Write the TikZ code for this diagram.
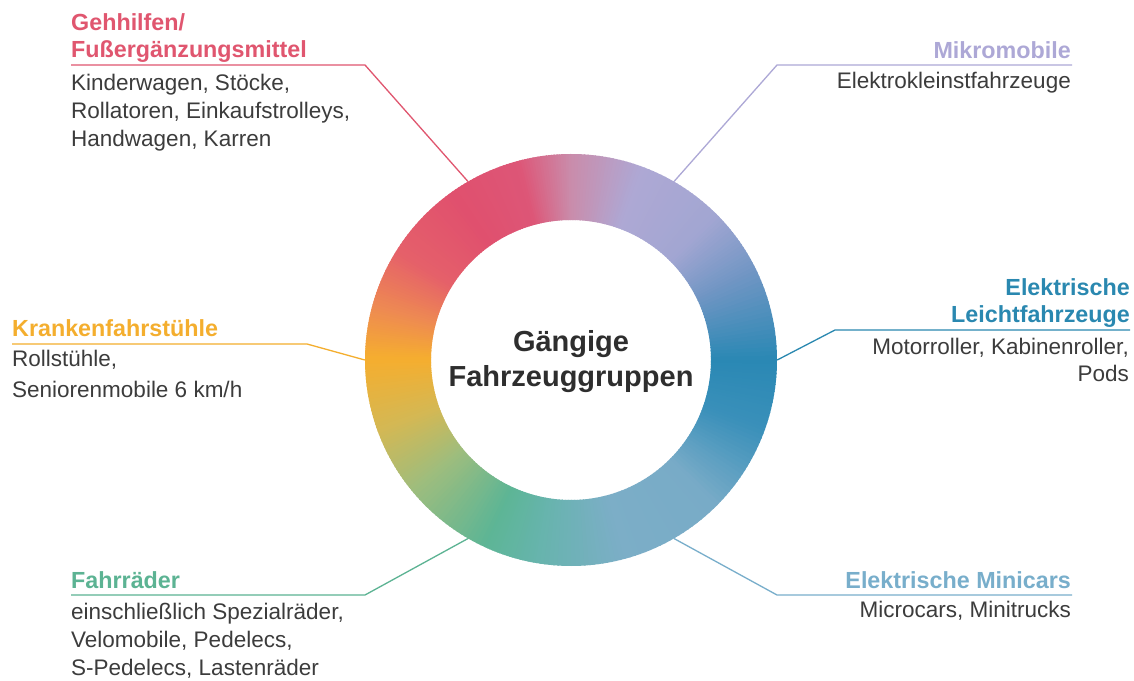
\documentclass[tikz,border=0pt]{standalone}
\usepackage{fontspec}
\setmainfont{Liberation Sans}
\definecolor{pinkc}{HTML}{E0566F}
\definecolor{lavc}{HTML}{ADA8D6}
\definecolor{bluec}{HTML}{2A88B0}
\definecolor{orangec}{HTML}{F4AE2E}
\definecolor{greenc}{HTML}{5CB393}
\definecolor{lbluec}{HTML}{78AECB}
\definecolor{bodygray}{HTML}{3C3C3C}
\definecolor{centergray}{HTML}{2E2E2E}
% ring gradient stops
\definecolor{gA}{HTML}{F5AE2F}% -180
\definecolor{gB}{HTML}{D4B854}% -160
\definecolor{gC}{HTML}{9DBD7E}% -140
\definecolor{gD}{HTML}{5DB595}% -115
\definecolor{gE}{HTML}{66B4AC}% -100
\definecolor{gF}{HTML}{7CAEC7}% -75
\definecolor{gG}{HTML}{78ABC7}% -45
\definecolor{gH}{HTML}{3A90BA}% -20
\definecolor{gI}{HTML}{2A88B4}% 0
\definecolor{gJ}{HTML}{6E95C3}% 25
\definecolor{gK}{HTML}{A2A6D2}% 45
\definecolor{gL}{HTML}{AEA8D4}% 70
\definecolor{gM}{HTML}{CA8CAB}% 90
\definecolor{gN}{HTML}{DD5677}% 105
\definecolor{gO}{HTML}{E0506E}% 125
\definecolor{gP}{HTML}{E5606A}% 148
\definecolor{gQ}{HTML}{EE8A52}% 165
\newcommand\ringpart[4]{%
  \pgfmathsetmacro\rpstep{(#2-#1)/20}%
  \foreach \k in {0,...,19}{%
    \pgfmathsetmacro\rpa{#1+\k*\rpstep}%
    \pgfmathsetmacro\rpb{\rpa+\rpstep+0.4}%
    \pgfmathsetmacro\rpmix{100-(\k+0.5)*5}%
    \fill[#3!\rpmix!#4] (\rpa:140pt) -- (\rpa:206pt)
      arc[start angle=\rpa, end angle=\rpb, radius=206pt]
      -- (\rpb:140pt)
      arc[start angle=\rpb, end angle=\rpa, radius=140pt] -- cycle;
  }%
}
\tikzset{
  ttl/.style={inner sep=0pt, font=\fontsize{23.3}{28}\selectfont\bfseries},
  bdy/.style={inner sep=0pt, text=bodygray, font=\fontsize{22.5}{28}\selectfont},
  ctr/.style={inner sep=0pt, text=centergray, font=\fontsize{29}{35}\selectfont\bfseries},
  conn/.style={line width=1.3pt},
}
\begin{document}
\begin{tikzpicture}[x=1pt,y=1pt]
\useasboundingbox[fill=white] (0,0) rectangle (1134,680);
% ring
\begin{scope}[shift={(571,320)}]
  \ringpart{-180}{-160}{gA}{gB}
  \ringpart{-160}{-140}{gB}{gC}
  \ringpart{-140}{-115}{gC}{gD}
  \ringpart{-115}{-100}{gD}{gE}
  \ringpart{-100}{-75}{gE}{gF}
  \ringpart{-75}{-45}{gF}{gG}
  \ringpart{-45}{-20}{gG}{gH}
  \ringpart{-20}{0}{gH}{gI}
  \ringpart{0}{25}{gI}{gJ}
  \ringpart{25}{45}{gJ}{gK}
  \ringpart{45}{70}{gK}{gL}
  \ringpart{70}{90}{gL}{gM}
  \ringpart{90}{105}{gM}{gN}
  \ringpart{105}{125}{gN}{gO}
  \ringpart{125}{148}{gO}{gP}
  \ringpart{148}{165}{gP}{gQ}
  \ringpart{165}{179.6}{gQ}{gA}
\end{scope}
\node[circle, minimum size=412pt, inner sep=0pt] (ring) at (571,320) {};
\node[ctr, anchor=base] (c1) at (571,328) {Gängige};
\node[ctr, anchor=base] (c2) at (571,293) {Fahrzeuggruppen};

% Gehhilfen
\coordinate (gk) at (365,615);
\coordinate (ge) at (71,615);
\draw[conn, pinkc] (ring.120) -- (gk) -- (ge);
\node[ttl, text=pinkc, anchor=base west] (g1) at (71,649) {Gehhilfen/};
\node[ttl, text=pinkc, anchor=base west] (g2) at (71,622) {Fußergänzungsmittel};
\node[bdy, anchor=base west] (gb1) at (71,589) {Kinderwagen, Stöcke,};
\node[bdy, anchor=base west] (gb2) at (71,561.5) {Rollatoren, Einkaufstrolleys,};
\node[bdy, anchor=base west] (gb3) at (71,533) {Handwagen, Karren};

% Mikromobile
\coordinate (mk) at (777,615);
\coordinate (me) at (1072,615);
\draw[conn, lavc] (ring.60) -- (mk) -- (me);
\node[ttl, text=lavc, anchor=base east] (m1) at (1071,621) {Mikromobile};
\node[bdy, anchor=base east] (mb1) at (1071,591) {Elektrokleinstfahrzeuge};

% Krankenfahrstuehle
\coordinate (kk) at (307,336);
\coordinate (ke) at (12,336);
\draw[conn, orangec] (ring.180) -- (kk) -- (ke);
\node[ttl, text=orangec, anchor=base west] (k1) at (12,343) {Krankenfahrstühle};
\node[bdy, anchor=base west] (kb1) at (12,313) {Rollstühle,};
\node[bdy, anchor=base west] (kb2) at (12,282) {Seniorenmobile 6 km/h};

% Elektrische Leichtfahrzeuge
\coordinate (lk) at (835,350);
\coordinate (le) at (1130,350);
\draw[conn, bluec] (ring.0) -- (lk) -- (le);
\node[ttl, text=bluec, anchor=base east] (l1) at (1130,384) {Elektrische};
\node[ttl, text=bluec, anchor=base east] (l2) at (1130,357) {Leichtfahrzeuge};
\node[bdy, anchor=base east] (lb1) at (1129,325) {Motorroller, Kabinenroller,};
\node[bdy, anchor=base east] (lb2) at (1129,298) {Pods};

% Fahrraeder
\coordinate (fk) at (365,85);
\coordinate (fe) at (71,85);
\draw[conn, greenc] (ring.-120) -- (fk) -- (fe);
\node[ttl, text=greenc, anchor=base west] (f1) at (71,92) {Fahrräder};
\node[bdy, anchor=base west] (fb1) at (71,61) {einschließlich Spezialräder,};
\node[bdy, anchor=base west] (fb2) at (71,32.5) {Velomobile, Pedelecs,};
\node[bdy, anchor=base west] (fb3) at (71,4.5) {S-Pedelecs, Lastenräder};

% Elektrische Minicars
\coordinate (ek) at (777,85);
\coordinate (ee) at (1072,85);
\draw[conn, lbluec] (ring.-60) -- (ek) -- (ee);
\node[ttl, text=lbluec, anchor=base east] (e1) at (1071,92) {Elektrische Minicars};
\node[bdy, anchor=base east] (eb1) at (1071,63) {Microcars, Minitrucks};
\end{tikzpicture}
\end{document}
